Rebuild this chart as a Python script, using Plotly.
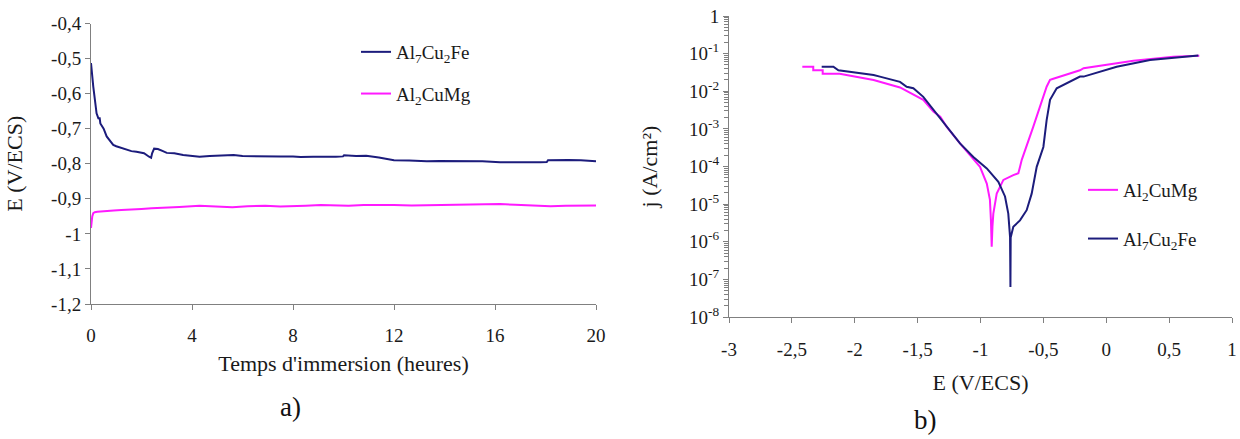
import plotly.graph_objects as go

# ---------------- Data: panel a) open-circuit potential vs time ----------------
t_fe = [0, 0.03, 0.09, 0.15, 0.22, 0.3, 0.34, 0.37, 0.42, 0.5, 0.62, 0.75, 0.88, 1.0, 1.2, 1.41, 1.6, 1.8, 1.94,
        2.1, 2.3, 2.38, 2.42, 2.5, 2.65, 2.75, 2.85, 3.0, 3.3, 3.65, 4.0, 4.3, 4.7, 5.0, 5.3, 5.65, 6.0, 6.5, 6.97,
        7.5, 8.0, 8.3, 8.8, 9.3, 9.7, 9.98, 10.02, 10.5, 10.9, 11.4, 12.0, 12.6, 13.3, 13.8, 14.2, 14.8, 15.5,
        16.2, 16.8, 17.3, 17.8, 18.05, 18.1, 18.5, 18.9, 19.4, 19.9, 20.0]
e_fe = [-0.513, -0.545, -0.58, -0.615, -0.656, -0.672, -0.668, -0.685, -0.69, -0.70, -0.722, -0.735, -0.746,
        -0.750, -0.755, -0.760, -0.764, -0.766, -0.768, -0.770, -0.780, -0.783, -0.770, -0.757, -0.758, -0.762,
        -0.764, -0.769, -0.770, -0.775, -0.778, -0.780, -0.778, -0.777, -0.776, -0.775, -0.778, -0.779, -0.780,
        -0.779, -0.779, -0.781, -0.780, -0.781, -0.780, -0.779, -0.776, -0.778, -0.777, -0.782, -0.790, -0.791,
        -0.793, -0.792, -0.792, -0.793, -0.793, -0.796, -0.795, -0.796, -0.796, -0.795, -0.790, -0.789, -0.789,
        -0.790, -0.793, -0.793]

t_mg = [0, 0.02, 0.05, 0.09, 0.15, 0.25, 0.36, 0.6, 0.9, 1.2, 1.68, 2.0, 2.4, 3.0, 3.5, 4.3, 5.0, 5.6, 6.2,
        6.9, 7.5, 8.0, 8.5, 9.1, 9.6, 10.2, 10.8, 11.4, 12.0, 12.7, 13.6, 14.3, 15.0, 15.5, 16.2, 16.8, 17.5,
        18.2, 18.8, 19.4, 19.9, 20.0]
e_mg = [-0.983, -0.965, -0.950, -0.941, -0.938, -0.937, -0.936, -0.934, -0.933, -0.932, -0.931, -0.929,
        -0.927, -0.924, -0.923, -0.920, -0.922, -0.924, -0.921, -0.920, -0.922, -0.922, -0.920, -0.918,
        -0.919, -0.920, -0.918, -0.919, -0.918, -0.919, -0.918, -0.917, -0.916, -0.916, -0.915, -0.917,
        -0.919, -0.921, -0.920, -0.919, -0.919, -0.919]

# ---------------- Data: panel b) polarisation curves ----------------
E_mg = [-2.417, -2.33, -2.33, -2.255, -2.255, -2.12, -1.85, -1.64, -1.455, -1.375, -1.32, -1.27, -1.163,
        -1.057, -1.004, -0.95, -0.925, -0.917, -0.911, -0.905, -0.898, -0.871, -0.818, -0.739, -0.699,
        -0.685, -0.672, -0.58, -0.474, -0.447, -0.421, -0.209, -0.18, 0.216, 0.534, 0.74]
j_mg = [0.045, 0.045, 0.036, 0.036, 0.029, 0.029, 0.020, 0.0126, 0.0059, 0.0029, 0.0021, 0.00115, 4.1e-4,
        1.6e-4, 9.8e-5, 3.5e-5, 1.3e-5, 3.7e-6, 7.4e-7, 2.5e-6, 5.6e-6, 1.9e-5, 4.4e-5, 5.9e-5, 6.6e-5,
        1.0e-4, 1.5e-4, 1.15e-3, 0.0132, 0.0200, 0.0215, 0.036, 0.041, 0.065, 0.083, 0.088]

E_fe = [-2.263, -2.17, -2.13, -2.04, -1.85, -1.80, -1.64, -1.587, -1.534, -1.455, -1.375, -1.27, -1.163,
        -1.057, -0.95, -0.858, -0.805, -0.779, -0.765, -0.762, -0.760, -0.739, -0.686, -0.633, -0.593,
        -0.553, -0.50, -0.474, -0.447, -0.394, -0.209, -0.18, 0.083, 0.348, 0.732]
j_fe = [0.045, 0.045, 0.036, 0.033, 0.027, 0.0245, 0.0178, 0.0132, 0.0120, 0.0071, 0.0032, 0.00115, 4.1e-4,
        1.8e-4, 8.9e-5, 3.9e-5, 1.6e-5, 5.6e-6, 1.35e-6, 6.3e-8, 1.3e-6, 2.5e-6, 3.7e-6, 6.9e-6, 1.9e-5,
        9.8e-5, 3.3e-4, 1.7e-3, 5.9e-3, 0.0120, 0.0245, 0.0245, 0.045, 0.068, 0.089]

# ---------------- Tick labels ----------------
ya_vals = [-1.2, -1.1, -1.0, -0.9, -0.8, -0.7, -0.6, -0.5, -0.4]
ya_text = ["-1,2", "-1,1", "-1", "-0,9", "-0,8", "-0,7", "-0,6", "-0,5", "-0,4"]
xa_vals = [0, 4, 8, 12, 16, 20]
xa_text = ["0", "4", "8", "12", "16", "20"]
xb_vals = [-3, -2.5, -2, -1.5, -1, -0.5, 0, 0.5, 1]
xb_text = ["-3", "-2,5", "-2", "-1,5", "-1", "-0,5", "0", "0,5", "1"]
yb_vals = [1e-8, 1e-7, 1e-6, 1e-5, 1e-4, 1e-3, 1e-2, 1e-1, 1]
yb_text = ["10<sup>-8</sup>", "10<sup>-7</sup>", "10<sup>-6</sup>", "10<sup>-5</sup>", "10<sup>-4</sup>",
           "10<sup>-3</sup>", "10<sup>-2</sup>", "10<sup>-1</sup>", "1"]

NAVY = "#1c1c7c"
MAG = "#ff1aff"
FONT = "Liberation Serif"
AX = "#808080"
TXT = "#1a1a1a"

W, H = 1240, 439
ML, MT = 91, 16
MR = W - 1232
MB = H - 317
PW, PH = W - ML - MR, H - MT - MB


def px(x):
    return (x - ML) / PW


def py(y):
    return (H - MB - y) / PH


fig = go.Figure()
fig.add_trace(go.Scatter(x=t_fe, y=e_fe, mode="lines", name="Al<sub>7</sub>Cu<sub>2</sub>Fe",
                         line=dict(color=NAVY, width=2), xaxis="x", yaxis="y", legend="legend",
                         legendgroup="a1"))
fig.add_trace(go.Scatter(x=t_mg, y=e_mg, mode="lines", name="Al<sub>2</sub>CuMg",
                         line=dict(color=MAG, width=2), xaxis="x", yaxis="y", legend="legend",
                         legendgroup="a2"))
fig.add_trace(go.Scatter(x=E_mg, y=j_mg, mode="lines", name="Al<sub>2</sub>CuMg",
                         line=dict(color=MAG, width=2), xaxis="x2", yaxis="y2", legend="legend2",
                         legendgroup="b1"))
fig.add_trace(go.Scatter(x=E_fe, y=j_fe, mode="lines", name="Al<sub>7</sub>Cu<sub>2</sub>Fe",
                         line=dict(color=NAVY, width=2), xaxis="x2", yaxis="y2", legend="legend2",
                         legendgroup="b2"))

common = dict(showgrid=False, zeroline=False, showline=True, linecolor=AX, linewidth=1, automargin=False,
              ticks="outside", tickcolor=AX, ticklen=5, ticklabeloverflow="allow",
              tickfont=dict(family=FONT, size=19, color=TXT))

minor_vals = [m * 10.0 ** p for p in range(-8, 0) for m in range(2, 10)]
title_font = dict(family=FONT, size=22, color=TXT)

fig.update_layout(
    template="none",
    width=W, height=H, autosize=False, margin=dict(l=ML, r=MR, t=MT, b=MB, pad=0),
    paper_bgcolor="white", plot_bgcolor="white",
    font=dict(family=FONT, color=TXT),
    showlegend=True,
    xaxis=dict(domain=[px(91), px(596)], anchor="y", range=[0, 20], tickmode="array",
               tickvals=xa_vals, ticktext=xa_text, ticklabelstandoff=9,
               title=dict(text="Temps d'immersion (heures)", font=title_font, standoff=10),
               **common),
    yaxis=dict(domain=[py(304), py(23.5)], anchor="x", range=[-1.2, -0.4], tickmode="array",
               tickvals=ya_vals, ticktext=ya_text,
               title=dict(text="E (V/ECS)", font=title_font, standoff=22),
               **common),
    xaxis2=dict(domain=[px(729), px(1232)], anchor="y2", range=[-3, 1], tickmode="array",
                tickvals=xb_vals, ticktext=xb_text, ticklabelstandoff=10,
                title=dict(text="E (V/ECS)", font=title_font, standoff=15),
                **common),
    yaxis2=dict(domain=[py(317), py(16)], anchor="x2", type="log", range=[-8, 0],
                tickmode="array", tickvals=yb_vals, ticktext=yb_text,
                minor=dict(tickmode="array", tickvals=minor_vals, ticks="outside", ticklen=4,
                           tickcolor=AX, showgrid=False),
                title=dict(text="j (A/cm²)", font=title_font, standoff=25),
                **common),
    legend=dict(x=px(356), y=py(33), xanchor="left", yanchor="top", bgcolor="rgba(0,0,0,0)",
                font=dict(family=FONT, size=19, color=TXT), tracegroupgap=14, itemwidth=30),
    legend2=dict(x=px(1083), y=py(171), xanchor="left", yanchor="top", bgcolor="rgba(0,0,0,0)",
                 font=dict(family=FONT, size=19, color=TXT), tracegroupgap=21, itemwidth=30),
    annotations=[
        dict(text="a)", x=px(290), y=py(407), xref="paper", yref="paper", showarrow=False,
             xanchor="center", yanchor="middle", font=dict(family=FONT, size=27, color="#111")),
        dict(text="b)", x=px(925), y=py(420), xref="paper", yref="paper", showarrow=False,
             xanchor="center", yanchor="middle", font=dict(family=FONT, size=27, color="#111")),
    ],
)

# Remove the browser's default 8 px body margin so the figure sits at the page origin.
fig.write_html("out.html", config={"displayModeBar": False},
               post_script="document.body.style.margin='0px';")
